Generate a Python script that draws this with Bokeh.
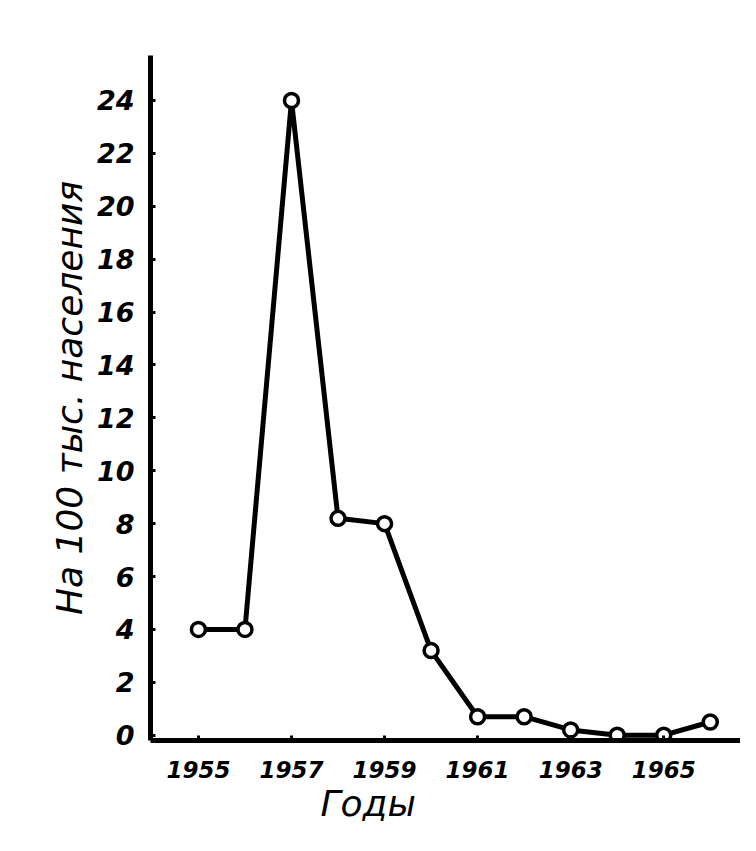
from bokeh.plotting import figure
from bokeh.models import Range1d, FixedTicker, Title
from bokeh.embed import file_html
from bokeh.resources import INLINE

years = [1955, 1956, 1957, 1958, 1959, 1960, 1961, 1962, 1963, 1964, 1965, 1966]
rates = [4.0, 4.0, 24.0, 8.2, 8.0, 3.2, 0.7, 0.7, 0.2, 0.0, 0.0, 0.5]
x_ticks = [1955, 1957, 1959, 1961, 1963, 1965]
y_ticks = list(range(0, 25, 2))

p = figure(width=740, height=835, output_backend="svg", toolbar_location=None,
           x_range=Range1d(1953.97, 1966.65), y_range=Range1d(-0.2, 25.7),
           min_border_left=150, min_border_right=0, min_border_top=55, min_border_bottom=95)
p.outline_line_color = None
p.xgrid.visible = False
p.ygrid.visible = False
p.background_fill_color = "white"

p.line(years, rates, line_color="black", line_width=5, line_join="round")
p.scatter(years, rates, size=14, fill_color="white", line_color="black", line_width=3.5)

font = "DejaVu Sans"
for ax in (p.xaxis[0], p.yaxis[0]):
    ax.axis_line_width = 5
    ax.axis_line_color = "black"
    ax.major_tick_in = 5
    ax.major_tick_out = 0
    ax.major_tick_line_width = 3
    ax.minor_tick_line_color = None
    ax.major_label_text_font = font
    ax.major_label_text_font_style = "bold italic"
    ax.major_label_text_color = "black"
    ax.axis_label_text_font = font
    ax.axis_label_text_font_style = "italic"
    ax.axis_label_text_color = "black"

p.xaxis.ticker = FixedTicker(ticks=x_ticks)
p.yaxis.ticker = FixedTicker(ticks=y_ticks)
p.xaxis.major_label_text_font_size = "23px"
p.yaxis.major_label_text_font_size = "27px"
p.xaxis.major_label_standoff = 20
p.yaxis.major_label_standoff = 16
p.yaxis.axis_label = "На 100 тыс. населения"
p.yaxis.axis_label_text_font_size = "36px"
p.yaxis.axis_label_standoff = 4

xtitle = Title(text="Годы", align="left", offset=170, text_font=font,
               text_font_style="italic", text_font_size="36px", text_color="black",
               standoff=0)
p.add_layout(xtitle, "below")

open("out.html", "w").write(file_html(p, INLINE))
